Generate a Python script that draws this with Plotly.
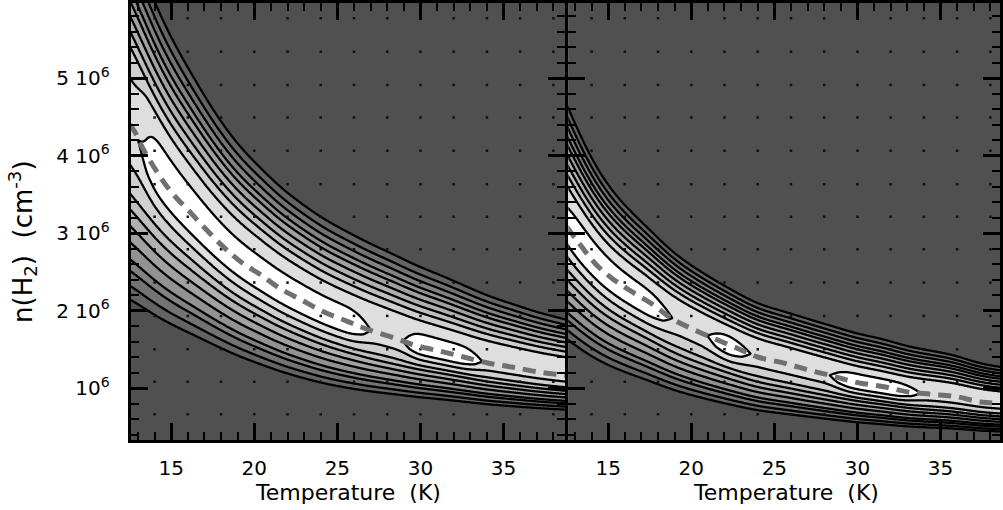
import numpy as np
import plotly.graph_objects as go

# ---------------- data ----------------
X_TICKS = [15, 20, 25, 30, 35]
Y_TICKVALS = [1e6, 2e6, 3e6, 4e6, 5e6]
Y_TICKTEXT = ["10<sup>6</sup>", "2 10<sup>6</sup>", "3 10<sup>6</sup>",
              "4 10<sup>6</sup>", "5 10<sup>6</sup>"]

# ridge (dashed line) of the likelihood, n in units of 1e6 cm^-3
L_RIDGE_T = [12.5, 12.8, 13.3, 14.2, 15.0, 16.0, 18.0, 19.3, 20.4, 21.5, 22.8,
             24.2, 25.6, 26.9, 28.5, 29.7, 31.3, 32.6, 34.1, 35.5, 37.0, 38.8]
L_RIDGE_N = [4.40, 4.31, 4.09, 3.77, 3.53, 3.30, 2.85, 2.61, 2.46, 2.29, 2.14,
             1.98, 1.86, 1.75, 1.64, 1.55, 1.47, 1.40, 1.32, 1.27, 1.21, 1.16]
R_RIDGE_T = [12.5, 13.1, 14.2, 15.2, 16.3, 17.6, 18.8, 20.4, 22.8, 24.0, 25.6,
             27.1, 28.6, 30.0, 31.5, 33.0, 34.4, 35.9, 37.4, 38.7]
R_RIDGE_N = [3.08, 2.91, 2.61, 2.42, 2.26, 2.09, 1.90, 1.73, 1.51, 1.40, 1.32,
             1.23, 1.15, 1.07, 1.02, 0.95, 0.92, 0.89, 0.82, 0.80]

# half-widths (decades) of the outermost contour above / below the ridge
L_WIDTH_T = [12.5, 15, 18, 22, 26, 30, 34, 38.8]
L_WIDTH_UP = [0.19, 0.195, 0.19, 0.196, 0.212, 0.224, 0.219, 0.21]
L_WIDTH_DN = [0.31, 0.285, 0.272, 0.276, 0.27, 0.24, 0.225, 0.207]
R_WIDTH_T = [12.5, 16, 20, 24, 28, 32, 36, 38.8]
R_WIDTH_UP = [0.18, 0.16, 0.163, 0.17, 0.19, 0.21, 0.205, 0.2]
R_WIDTH_DN = [0.275, 0.28, 0.29, 0.298, 0.29, 0.28, 0.27, 0.26]

# peak strength along the ridge (white islands where > 0)
L_PEAK_T = [12.4, 13.1, 14.0, 15.0, 22.0, 25.8, 27.2, 28.9, 29.8, 32.6, 33.9, 38.9]
L_PEAK_A = [-0.7, -0.7, 0.7, 0.75, 0.8, 0.75, -0.7, -0.7, 0.7, 0.65, -0.7, -0.7]
R_PEAK_T = [12.4, 12.7, 13.5, 17.5, 19.1, 20.8, 22.2, 23.8, 28.2, 29.5, 32.5, 34.0, 38.9]
R_PEAK_A = [0.4, 0.7, 0.8, 0.7, -0.7, -0.7, 0.75, -0.7, -0.7, 0.8, 0.75, -0.7, -0.7]
# offset (decades) of the white islands above the dashed ridge
L_SHIFT_T = [12.4, 14.0, 16.0, 18.5, 38.9]
L_SHIFT = [0.02, 0.02, 0.012, 0.0, 0.0]
R_SHIFT_T = [12.4, 14.0, 16.0, 38.9]
R_SHIFT = [0.012, 0.012, 0.0, 0.0]

# normalised distance of each contour level from the ridge (above / below it)
LEVEL_U_UP = [1.0, 0.924, 0.855, 0.784, 0.723, 0.647, 0.568, 0.486, 0.385, 0.118, 0.0]
LEVEL_U_DN = [1.0, 0.889, 0.776, 0.696, 0.584, 0.485, 0.391, 0.308, 0.19, 0.087, 0.0]
LEVEL_Z = [1, 2, 3, 4, 5, 6, 7, 8, 9, 10, 10.45]

# dotted background grid
DOT_T = [14, 16, 18, 20, 22, 24, 26, 28, 30, 32, 34, 36, 38]
DOT_N = [5.77, 5.34, 4.91, 4.49, 4.06, 3.63, 3.21, 2.79, 2.36, 1.93, 1.50, 1.08, 0.66]

GRAYS = [80, 100, 115, 130, 146, 161, 176, 191, 207, 222, 255]

# ---------------- build surfaces ----------------
Tg = np.arange(12.3, 39.0, 0.05)
Ng = np.arange(0.25, 6.1, 0.008)
FINE = np.arange(9.0, 42.0, 0.02)


def smooth_curve(xp, fp, sigma):
    xp = np.asarray(xp, float)
    fp = np.asarray(fp, float)
    s0 = (fp[1] - fp[0]) / (xp[1] - xp[0])
    s1 = (fp[-1] - fp[-2]) / (xp[-1] - xp[-2])
    f = np.interp(FINE, xp, fp)
    f = np.where(FINE < xp[0], fp[0] + s0 * (FINE - xp[0]), f)
    f = np.where(FINE > xp[-1], fp[-1] + s1 * (FINE - xp[-1]), f)
    n = int(4 * sigma / 0.02)
    k = np.exp(-0.5 * (np.arange(-n, n + 1) * 0.02 / sigma) ** 2)
    k /= k.sum()
    return np.convolve(np.pad(f, n, mode="edge"), k, mode="valid")


def ev(curve, T):
    return np.interp(T, FINE, curve)


def surface(rt, rn, wt, wu, wd, pt, pa, st, sv):
    TT, NN = np.meshgrid(Tg, Ng)
    r = 10 ** ev(smooth_curve(rt, np.log10(rn), 0.7), TT)
    up = ev(smooth_curve(wt, wu, 1.5), TT)
    dn = ev(smooth_curve(wt, wd, 1.5), TT)
    d = np.log10(NN / r)
    u = np.where(d > 0, d / up, -d / dn)
    uc = np.minimum(u, 1.0)
    g_up = np.interp(uc, LEVEL_U_UP[::-1], LEVEL_Z[::-1])
    g_dn = np.interp(uc, LEVEL_U_DN[::-1], LEVEL_Z[::-1])
    g = np.where(d > 0, g_up, g_dn)
    g = np.where(u > 1.0, 1.0 - (u - 1.0) * 12.0, g)
    a = ev(smooth_curve(pt, pa, 0.35), TT)
    s = ev(smooth_curve(st, sv, 0.8), TT)
    w = np.where(d > s, up, dn)
    bump = np.clip(1 - np.abs(d - s) / (0.35 * w), 0, None)
    return g + a * bump


zL = surface(L_RIDGE_T, L_RIDGE_N, L_WIDTH_T, L_WIDTH_UP, L_WIDTH_DN, L_PEAK_T, L_PEAK_A,
             L_SHIFT_T, L_SHIFT)
zR = surface(R_RIDGE_T, R_RIDGE_N, R_WIDTH_T, R_WIDTH_UP, R_WIDTH_DN, R_PEAK_T, R_PEAK_A,
             R_SHIFT_T, R_SHIFT)

colorscale = [[i / (len(GRAYS) - 1), "rgb(%d,%d,%d)" % (g, g, g)] for i, g in enumerate(GRAYS)]

fig = go.Figure()
for z, xa, ya in [(zL, "x", "y"), (zR, "x2", "y2")]:
    fig.add_trace(go.Contour(
        x=Tg, y=Ng * 1e6, z=z, xaxis=xa, yaxis=ya,
        colorscale=colorscale, showscale=False,
        contours=dict(start=1, end=10, size=1, coloring="fill", showlines=True),
        line=dict(color="black", width=2.3, smoothing=1.0),
        hoverinfo="skip"))

dx, dy = np.meshgrid(DOT_T, DOT_N)
for xa, ya in [("x", "y"), ("x2", "y2")]:
    fig.add_trace(go.Scatter(x=dx.ravel(), y=dy.ravel() * 1e6, xaxis=xa, yaxis=ya,
                             mode="markers", marker=dict(color="#111111", size=2.5, symbol="square"),
                             hoverinfo="skip"))

for rt, rn, xa, ya in [(L_RIDGE_T, L_RIDGE_N, "x", "y"), (R_RIDGE_T, R_RIDGE_N, "x2", "y2")]:
    fig.add_trace(go.Scatter(x=rt, y=np.array(rn) * 1e6, xaxis=xa, yaxis=ya, mode="lines",
                             line=dict(color="#707070", width=5, dash="13px,8px", shape="spline"),
                             hoverinfo="skip"))

W, H = 1003, 510
px_per_K = 16.667
LX0, LX1, RX0, RX1 = 131, 567, 570, 1003
ytop, ybot = 3, 440


def t_left(x):
    return 15 + (x - 171.7) / px_per_K


def t_right(x):
    return 15 + (x - 610.0) / px_per_K


def n_of(y):
    return (1 + (388 - y) / 77.5) * 1e6


font = dict(family="DejaVu Sans", size=20, color="black")
xcommon = dict(tickvals=X_TICKS, ticks="inside", ticklen=17, tickwidth=2.5, tickcolor="black",
               showline=True, linewidth=3, linecolor="black", mirror="allticks",
               showgrid=False, zeroline=False, tickfont=font, ticklabelstandoff=8,
               minor=dict(dtick=1, tick0=0, ticks="inside", ticklen=8, tickwidth=2,
                          tickcolor="black", showgrid=False))
ycommon = dict(tickvals=Y_TICKVALS, ticktext=Y_TICKTEXT, ticks="inside", ticklen=17,
               tickwidth=2.5, tickcolor="black", showline=True, linewidth=3,
               linecolor="black", mirror="allticks", showgrid=False, zeroline=False,
               tickfont=font, range=[n_of(ybot), n_of(ytop)], ticklabelstandoff=14,
               minor=dict(dtick=200000, tick0=0, ticks="inside", ticklen=8, tickwidth=2,
                          tickcolor="black", showgrid=False))
ydom = [(H - ybot) / H, (H - ytop) / H]

fig.update_layout(
    width=W, height=H, margin=dict(l=0, r=0, t=0, b=0, pad=0),
    paper_bgcolor="white", plot_bgcolor="#505050", showlegend=False,
    xaxis=dict(domain=[LX0 / W, LX1 / W], range=[t_left(LX0), t_left(LX1)], anchor="y", **xcommon),
    yaxis=dict(domain=ydom, anchor="x", **ycommon),
    xaxis2=dict(domain=[RX0 / W, RX1 / W], range=[t_right(RX0), t_right(RX1)], anchor="y2", **xcommon),
    yaxis2=dict(domain=ydom, anchor="x2", showticklabels=False, **ycommon),
    annotations=[
        dict(text="Temperature  (K)", x=349 / W, y=(H - 492) / H, xref="paper", yref="paper",
             xanchor="center", yanchor="middle", showarrow=False,
             font=dict(family="DejaVu Sans", size=22, color="black")),
        dict(text="Temperature  (K)", x=788 / W, y=(H - 492) / H, xref="paper", yref="paper",
             xanchor="center", yanchor="middle", showarrow=False,
             font=dict(family="DejaVu Sans", size=22, color="black")),
        dict(text="n(H<sub>2</sub>)  (cm<sup>-3</sup>)", x=22 / W, y=(H - 241) / H,
             xref="paper", yref="paper", xanchor="center", yanchor="middle",
             textangle=-90, showarrow=False,
             font=dict(family="DejaVu Sans", size=26, color="black")),
    ],
)

fig.write_html("out.html")
